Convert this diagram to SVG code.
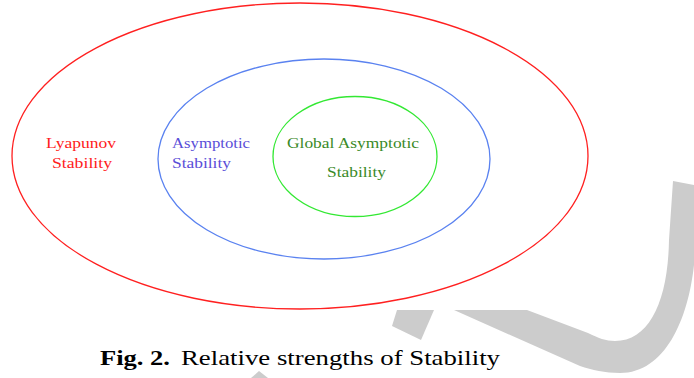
<svg xmlns="http://www.w3.org/2000/svg" width="694" height="378" viewBox="0 0 694 378">
<style>
.ring{fill:none;stroke-width:1.3}
.lbl{font-family:"Liberation Serif","Times New Roman",serif;font-size:15px}
.cap{font-family:"Liberation Serif","Times New Roman",serif;font-size:22px;fill:#000}
.wm{fill:#cccccc;stroke:none}
</style>
<rect width="694" height="378" fill="#ffffff"/>
<g id="watermark">
<path class="wm" d="M673,181 L694,185 L694,265 C688,320 665,373 620,373 C605,373 592,370 580,366 L454,310 L527,310 L588,333 C598,338 606,341 615,341 C650,341 668,300 669,240 Z"/>
<polygon class="wm" points="397,310 434,310 421,340 392,326"/>
<polygon class="wm" points="251,378 259,371 268,378"/>
</g>
<g id="connectors"></g>
<g id="lyapunov">
<ellipse class="ring" cx="300" cy="156" rx="288" ry="153" stroke="#ff2020"/>
<text class="lbl" fill="#ff2020" x="46" y="148" textLength="70" lengthAdjust="spacingAndGlyphs">Lyapunov</text>
<text class="lbl" fill="#ff2020" x="52" y="168" textLength="60" lengthAdjust="spacingAndGlyphs">Stability</text>
</g>
<g id="asymptotic">
<ellipse class="ring" cx="324" cy="159" rx="166" ry="100" stroke="#5a82f0"/>
<text class="lbl" fill="#5a4ed8" x="172" y="148" textLength="78" lengthAdjust="spacingAndGlyphs">Asymptotic</text>
<text class="lbl" fill="#5a4ed8" x="172" y="168" textLength="59" lengthAdjust="spacingAndGlyphs">Stability</text>
</g>
<g id="global">
<ellipse class="ring" cx="355" cy="156.5" rx="82" ry="60" stroke="#33e833"/>
<text class="lbl" fill="#3a8a28" x="287" y="148" textLength="132" lengthAdjust="spacingAndGlyphs">Global Asymptotic</text>
<text class="lbl" fill="#3a8a28" x="327" y="177" textLength="59" lengthAdjust="spacingAndGlyphs">Stability</text>
</g>
<g id="caption">
<text class="cap" x="100" y="365" font-weight="bold" textLength="70" lengthAdjust="spacingAndGlyphs">Fig. 2.</text>
<text class="cap" x="181" y="365" textLength="319" lengthAdjust="spacingAndGlyphs">Relative strengths of Stability</text>
</g>
</svg>
